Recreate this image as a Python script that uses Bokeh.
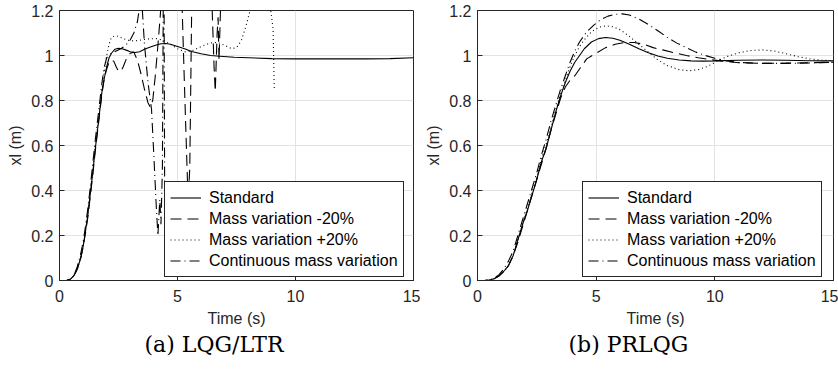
from bokeh.plotting import figure
from bokeh.models import Range1d, FixedTicker, PrintfTickFormatter, Legend, LegendItem, Title
from bokeh.layouts import row
from bokeh.embed import file_html
from bokeh.resources import INLINE

series_names = ["Standard", "Mass variation -20%", "Mass variation +20%", "Continuous mass variation"]
x_ticks = [0, 5, 10, 15]
y_ticks = [0, 0.2, 0.4, 0.6, 0.8, 1, 1.2]
captions = ["(a) LQG/LTR", "(b) PRLQG"]

# ---------- (a) LQG/LTR ----------
ltr_std_t = [0, 0.3, 0.45, 0.6, 0.75, 0.9, 1.0, 1.1, 1.2, 1.3, 1.4, 1.5, 1.6, 1.7, 1.8, 1.9, 2.0, 2.1, 2.2, 2.35,
             2.5, 2.65, 2.8, 3.0, 3.2, 3.4, 3.6, 3.85, 4.1, 4.3, 4.5, 4.7, 5.0, 5.3, 5.6, 6.0, 6.4, 6.8, 7.4, 8.0,
             9.0, 10.0, 11.0, 12.0, 13.0, 14.0, 15.0]
ltr_std_y = [0, 0, 0.005, 0.02, 0.05, 0.1, 0.15, 0.22, 0.29, 0.38, 0.47, 0.57, 0.66, 0.75, 0.84, 0.9, 0.95, 0.99,
             1.01, 1.028, 1.032, 1.03, 1.025, 1.017, 1.013, 1.017, 1.028, 1.038, 1.047, 1.052, 1.053, 1.05, 1.04,
             1.03, 1.018, 1.008, 1.0, 0.997, 0.992, 0.99, 0.986, 0.985, 0.985, 0.985, 0.985, 0.986, 0.99]

ltr_minus_t = [0, 0.3, 0.45, 0.6, 0.75, 0.9, 1.0, 1.1, 1.2, 1.3, 1.4, 1.5, 1.6, 1.7, 1.8, 1.9, 2.0, 2.1, 2.2, 2.3,
               2.4, 2.5, 2.6, 2.7, 2.85, 3.0, 3.15, 3.3, 3.45, 3.6, 3.75, 3.85, 3.95, 4.05, 4.15, 4.25, 4.3, 4.35,
               4.7, 5.1, 5.2, 5.3, 5.45, 5.52, 5.6, 5.7, 6.0, 6.4, 6.47, 6.55, 6.6, 6.68, 6.72, 6.76, 6.82, 6.88]
ltr_minus_y = [0, 0, 0.004, 0.02, 0.05, 0.1, 0.15, 0.21, 0.28, 0.37, 0.46, 0.56, 0.65, 0.74, 0.83, 0.9, 0.94, 0.97,
               0.98, 0.975, 0.95, 0.93, 0.93, 0.95, 0.99, 1.01, 1.015, 0.98, 0.92, 0.85, 0.79, 0.77, 0.8, 0.9, 1.02,
               1.15, 1.22, 1.35, 1.5, 1.35, 1.2, 0.85, 0.35, 0.5, 1.2, 1.35, 1.5, 1.3, 1.2, 0.95, 0.84, 1.1, 1.17,
               0.98, 1.2, 1.3]

ltr_plus_t = [0, 0.3, 0.45, 0.6, 0.75, 0.9, 1.0, 1.1, 1.2, 1.3, 1.4, 1.5, 1.6, 1.7, 1.8, 1.9, 2.0, 2.1, 2.2, 2.35,
              2.5, 2.7, 2.9, 3.1, 3.3, 3.5, 3.8, 4.1, 4.4, 4.7, 5.0, 5.3, 5.6, 6.0, 6.4, 6.7, 7.0, 7.3, 7.5, 7.7,
              7.9, 8.05, 8.2, 8.5, 8.8, 8.95, 9.05, 9.1]
ltr_plus_y = [0, 0, 0.004, 0.02, 0.05, 0.1, 0.15, 0.22, 0.3, 0.39, 0.48, 0.58, 0.67, 0.76, 0.85, 0.93, 1.0, 1.05,
              1.08, 1.088, 1.085, 1.075, 1.068, 1.065, 1.066, 1.07, 1.074, 1.075, 1.068, 1.05, 1.03, 1.016, 1.02,
              1.04, 1.056, 1.058, 1.045, 1.03, 1.035, 1.065, 1.13, 1.19, 1.26, 1.4, 1.3, 1.2, 1.12, 0.85]

ltr_cont_t = [0, 0.3, 0.45, 0.6, 0.75, 0.9, 1.0, 1.1, 1.2, 1.3, 1.4, 1.5, 1.6, 1.7, 1.8, 1.9, 2.0, 2.2, 2.4, 2.6,
              2.8, 3.0, 3.15, 3.3, 3.4, 3.45, 3.5, 3.6, 3.75, 3.9, 4.0, 4.1, 4.17, 4.25, 4.3, 4.36, 4.4, 4.43, 4.47]
ltr_cont_y = [0, 0, 0.005, 0.02, 0.06, 0.12, 0.17, 0.24, 0.32, 0.41, 0.51, 0.61, 0.7, 0.79, 0.88, 0.95, 0.99, 1.01,
              1.02, 1.03, 1.045, 1.07, 1.1, 1.15, 1.22, 1.3, 1.22, 1.05, 0.88, 0.76, 0.55, 0.33, 0.2, 0.36, 0.25,
              0.5, 1.3, 1.3, -0.1]

# ---------- (b) PRLQG ----------
prl_std_t = [0, 0.3, 0.5, 0.7, 0.9, 1.1, 1.3, 1.5, 1.7, 1.9, 2.1, 2.3, 2.5, 2.7, 2.9, 3.1, 3.3, 3.5, 3.7, 3.9, 4.1,
             4.3, 4.5, 4.8, 5.1, 5.4, 5.7, 6.0, 6.4, 6.8, 7.2, 7.6, 8.0, 8.5, 9.0, 9.5, 10.0, 11.0, 12.0, 13.0,
             14.0, 15.0]
prl_std_y = [0, 0, 0.002, 0.008, 0.02, 0.04, 0.065, 0.11, 0.18, 0.25, 0.31, 0.38, 0.45, 0.53, 0.59, 0.67, 0.75,
             0.82, 0.88, 0.93, 0.97, 1.0, 1.03, 1.06, 1.075, 1.08, 1.077, 1.068, 1.05, 1.03, 1.012, 0.998, 0.988,
             0.98, 0.976, 0.975, 0.976, 0.979, 0.98, 0.979, 0.977, 0.976]

prl_minus_t = [0, 0.3, 0.5, 0.7, 0.9, 1.1, 1.3, 1.5, 1.7, 1.9, 2.1, 2.3, 2.5, 2.7, 2.9, 3.1, 3.3, 3.5, 3.7, 3.9,
               4.1, 4.3, 4.6, 5.0, 5.4, 5.8, 6.2, 6.6, 7.0, 7.4, 7.8, 8.3, 8.8, 9.3, 9.8, 10.3, 11.0, 12.0, 13.0,
               14.0, 15.0]
prl_minus_y = [0, 0, 0.002, 0.008, 0.02, 0.04, 0.065, 0.11, 0.17, 0.24, 0.31, 0.38, 0.45, 0.52, 0.59, 0.67, 0.74,
               0.81, 0.86, 0.89, 0.91, 0.94, 0.985, 1.01, 1.035, 1.05, 1.058, 1.058, 1.05, 1.035, 1.025, 1.012, 1.0,
               0.99, 0.982, 0.975, 0.968, 0.965, 0.966, 0.968, 0.97]

prl_plus_t = [0, 0.3, 0.5, 0.7, 0.9, 1.1, 1.3, 1.5, 1.7, 1.9, 2.1, 2.3, 2.5, 2.7, 2.9, 3.1, 3.3, 3.5, 3.7, 3.9, 4.1,
              4.3, 4.5, 4.8, 5.1, 5.4, 5.7, 6.0, 6.4, 6.8, 7.2, 7.6, 8.0, 8.5, 8.9, 9.3, 9.7, 10.1, 10.5, 11.0,
              11.5, 12.0, 12.5, 13.0, 13.5, 14.0, 14.5, 15.0]
prl_plus_y = [0, 0, 0.002, 0.008, 0.02, 0.04, 0.065, 0.11, 0.18, 0.25, 0.32, 0.39, 0.46, 0.54, 0.61, 0.68, 0.76,
              0.83, 0.89, 0.95, 1.0, 1.04, 1.07, 1.105, 1.125, 1.132, 1.128, 1.115, 1.085, 1.05, 1.015, 0.98, 0.955,
              0.937, 0.932, 0.937, 0.952, 0.975, 0.995, 1.012, 1.022, 1.025, 1.02, 1.008, 0.995, 0.985, 0.979, 0.977]

prl_cont_t = [0, 0.3, 0.5, 0.7, 0.9, 1.1, 1.3, 1.5, 1.7, 1.9, 2.1, 2.3, 2.5, 2.7, 2.9, 3.1, 3.3, 3.5, 3.7, 3.9, 4.1,
              4.3, 4.6, 4.9, 5.2, 5.5, 5.8, 6.1, 6.4, 6.8, 7.2, 7.6, 8.0, 8.4, 8.8, 9.2, 9.6, 10.0, 10.5, 11.0,
              12.0, 13.0, 14.0, 15.0]
prl_cont_y = [0, 0, 0.002, 0.01, 0.025, 0.05, 0.085, 0.13, 0.2, 0.27, 0.34, 0.41, 0.48, 0.56, 0.63, 0.71, 0.78,
              0.85, 0.91, 0.97, 1.02, 1.06, 1.105, 1.135, 1.16, 1.175, 1.183, 1.185, 1.18, 1.162, 1.138, 1.11, 1.08,
              1.055, 1.035, 1.015, 1.0, 0.988, 0.976, 0.969, 0.965, 0.965, 0.967, 0.97]

dashes = ["solid", "11 6", "1 3", "10 4 1 4"]
FONT = "Liberation Sans"
TXT = "#262626"


def style_axis(ax):
    ax.axis_line_color = TXT
    ax.major_tick_line_color = TXT
    ax.major_tick_in = 5
    ax.major_tick_out = 0
    ax.minor_tick_line_color = None
    ax.major_label_text_font = FONT
    ax.major_label_text_font_size = "16px"
    ax.major_label_text_color = TXT
    ax.axis_label_text_font = FONT
    ax.axis_label_text_font_size = "16px"
    ax.axis_label_text_font_style = "normal"
    ax.axis_label_text_color = TXT


def make_fig(series, caption, fw, bl, br, cap_offset):
    p = figure(frame_width=fw, frame_height=270, x_range=Range1d(0, 15), y_range=Range1d(0, 1.2),
               output_backend="svg", toolbar_location=None, title_location=None,
               min_border_left=bl, min_border_right=br, min_border_top=10, min_border_bottom=88)
    p.border_fill_color = "white"
    p.background_fill_color = "white"
    p.outline_line_color = TXT
    p.outline_line_alpha = 1
    p.outline_line_width = 1
    p.xaxis.ticker = FixedTicker(ticks=x_ticks)
    p.yaxis.ticker = FixedTicker(ticks=y_ticks)
    p.xaxis.formatter = PrintfTickFormatter(format="%g")
    p.yaxis.formatter = PrintfTickFormatter(format="%g")
    p.xaxis.axis_label = "Time (s)"
    p.yaxis.axis_label = "xl (m)"
    style_axis(p.xaxis[0])
    style_axis(p.yaxis[0])
    p.xaxis.major_label_standoff = 9
    p.xaxis.axis_label_standoff = 5
    p.yaxis.major_label_standoff = 6
    p.yaxis.axis_label_standoff = 4
    p.grid.grid_line_color = "#e3e3e3"
    items = []
    for (t, y), name, d in zip(series, series_names, dashes):
        r = p.line(t, y, line_color="black", line_width=1.1, line_dash=d)
        items.append(LegendItem(label=name, renderers=[r]))
    leg = Legend(items=items, location=(105, 3), label_text_font=FONT, label_text_font_size="16px",
                 label_text_color="black", glyph_width=31, glyph_height=21, label_height=21,
                 label_standoff=8, spacing=0, padding=5, margin=0,
                 border_line_color=TXT, border_line_width=1, border_line_alpha=1,
                 background_fill_color="white", background_fill_alpha=1)
    p.add_layout(leg)
    cap = Title(text=caption, text_font="DejaVu Serif", text_font_size="22px", text_font_style="normal",
                text_color="black", align="left", offset=cap_offset, standoff=0)
    p.add_layout(cap, "below")
    return p


p1 = make_fig([(ltr_std_t, ltr_std_y), (ltr_minus_t, ltr_minus_y), (ltr_plus_t, ltr_plus_y),
               (ltr_cont_t, ltr_cont_y)], captions[0], 354, 59, 7, 85)
p2 = make_fig([(prl_std_t, prl_std_y), (prl_minus_t, prl_minus_y), (prl_plus_t, prl_plus_y),
               (prl_cont_t, prl_cont_y)], captions[1], 356, 57, 5, 91)

layout = row(p1, p2, spacing=0)
open("out.html", "w").write(file_html(layout, INLINE))
